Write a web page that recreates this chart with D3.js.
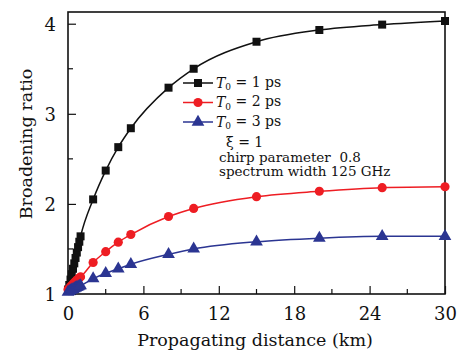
<!DOCTYPE html>
<html>
<head>
<meta charset="utf-8">
<script src="https://cdn.jsdelivr.net/npm/d3@7"></script>
<style>
  body { margin: 0; background: #fff; }
  svg { display: block; }
  text { font-family: "DejaVu Serif", "Liberation Serif", serif; fill: #111; white-space: pre; }
</style>
</head>
<body>
<figure id="chart" style="margin:0"></figure>
<script>
// distances (km)
const distance = [0, 0.1, 0.2, 0.3, 0.4, 0.5, 0.6, 0.7, 0.8, 0.9, 1, 2, 3, 4, 5, 8, 10, 15, 20, 25, 30];
const ratioT1 = [1.05, 1.10, 1.16, 1.22, 1.28, 1.34, 1.40, 1.46, 1.52, 1.58, 1.64, 2.05, 2.37, 2.63, 2.84, 3.29, 3.50, 3.80, 3.93, 3.99, 4.03];
const ratioT2 = [1.05, 1.065, 1.08, 1.095, 1.11, 1.125, 1.14, 1.155, 1.165, 1.18, 1.19, 1.35, 1.47, 1.575, 1.66, 1.86, 1.95, 2.08, 2.14, 2.18, 2.19];
const ratioT3 = [1.02, 1.03, 1.037, 1.045, 1.052, 1.06, 1.067, 1.074, 1.08, 1.087, 1.093, 1.17, 1.23, 1.28, 1.33, 1.44, 1.50, 1.58, 1.62, 1.64, 1.64];
const seriesNames = ["1 ps", "2 ps", "3 ps"];
const xTicks = [0, 6, 12, 18, 24, 30];
const yTicks = [1, 2, 3, 4];
const notes = ["chirp parameter  0.8", "spectrum width 125 GHz"];

const width = 457, height = 351;
const margin = { top: 12, right: 12, bottom: 57, left: 68 };

const svg = d3.select("figure#chart").append("svg")
  .attr("width", width).attr("height", height);

const x = d3.scaleLinear().domain([0, 30]).range([margin.left, width - margin.right]);
const y = d3.scaleLinear().domain([1, 4.13]).range([height - margin.bottom, margin.top]);

const series = [
  { name: seriesNames[0], values: ratioT1, color: "#111111", shape: d3.symbolSquare, size: 64 },
  { name: seriesNames[1], values: ratioT2, color: "#ee1d23", shape: d3.symbolCircle, size: 66 },
  { name: seriesNames[2], values: ratioT3, color: "#2b3592", shape: d3.symbolTriangle, size: 70 }
];

// ticks, inward
const xAxis = d3.axisBottom(x).tickValues(xTicks).tickSize(-8).tickPadding(13).tickFormat(d3.format("d"));
const yAxis = d3.axisLeft(y).tickValues(yTicks).tickSize(-8).tickPadding(12).tickFormat(d3.format("d"));

const gx = svg.append("g").attr("transform", "translate(0," + (height - margin.bottom) + ")").call(xAxis);
const gy = svg.append("g").attr("transform", "translate(" + margin.left + ",0)").call(yAxis);
[gx, gy].forEach(g => {
  g.select(".domain").remove();
  g.selectAll("line").attr("stroke", "#111").attr("stroke-width", 1.2);
  g.selectAll("text").style("font-size", "18px").style("font-family", "DejaVu Serif, serif").attr("fill", "#111");
});
gy.selectAll("text").attr("dy", "0.35em");

// minor ticks
svg.append("g").selectAll("line").data([3, 9, 15, 21, 27]).enter().append("line")
  .attr("x1", d => x(d)).attr("x2", d => x(d))
  .attr("y1", height - margin.bottom).attr("y2", height - margin.bottom - 5)
  .attr("stroke", "#111").attr("stroke-width", 1.2);
svg.append("g").selectAll("line").data([1.5, 2.5, 3.5]).enter().append("line")
  .attr("x1", margin.left).attr("x2", margin.left + 5)
  .attr("y1", d => y(d)).attr("y2", d => y(d))
  .attr("stroke", "#111").attr("stroke-width", 1.2);

// frame
svg.append("rect")
  .attr("x", margin.left).attr("y", margin.top)
  .attr("width", width - margin.left - margin.right)
  .attr("height", height - margin.top - margin.bottom)
  .attr("fill", "none").attr("stroke", "#111").attr("stroke-width", 1.6);

const line = d3.line()
  .x((d, i) => x(distance[i]))
  .y(d => y(d))
  .curve(d3.curveMonotoneX);

series.forEach(s => {
  svg.append("path")
    .datum(s.values)
    .attr("d", line)
    .attr("fill", "none")
    .attr("stroke", s.color)
    .attr("stroke-width", 1.5);

  svg.append("g").selectAll("path")
    .data(s.values).enter()
    .append("path")
    .attr("d", d3.symbol().type(s.shape).size(s.size))
    .attr("transform", (d, i) => "translate(" + x(distance[i]) + "," + y(d) + ")")
    .attr("fill", s.color);
});

// legend
const legend = svg.append("g");
series.forEach((s, i) => {
  const ly = 83 + i * 19.5;
  legend.append("line")
    .attr("x1", 183).attr("x2", 213).attr("y1", ly).attr("y2", ly)
    .attr("stroke", s.color).attr("stroke-width", 1.5);
  legend.append("path")
    .attr("d", d3.symbol().type(s.shape).size(s.size))
    .attr("transform", "translate(198," + ly + ")")
    .attr("fill", s.color);
  const t = legend.append("text")
    .attr("x", 216).attr("y", ly).attr("dy", "0.35em")
    .style("font-size", "14px");
  t.append("tspan").style("font-style", "italic").text("T");
  t.append("tspan").attr("dy", "0.25em").style("font-size", "9px").text("0");
  t.append("tspan").attr("dy", "-0.25em").text(" = " + s.name);
});

legend.append("text")
  .attr("x", 226).attr("y", 142).attr("dy", "0.35em")
  .style("font-size", "14px")
  .text("\u03be = 1");
notes.forEach((n, i) => {
  legend.append("text")
    .attr("x", 219).attr("y", 157 + i * 14.5).attr("dy", "0.35em")
    .style("font-size", "13.5px")
    .text(n);
});

// axis titles
svg.append("text")
  .attr("x", 255).attr("y", 340).attr("dy", "0.35em")
  .attr("text-anchor", "middle")
  .style("font-size", "17.5px")
  .text("Propagating distance (km)");

svg.append("text")
  .attr("transform", "translate(26,144) rotate(-90)")
  .attr("dy", "0.35em")
  .attr("text-anchor", "middle")
  .style("font-size", "17.5px")
  .text("Broadening ratio");
</script>
</body>
</html>
